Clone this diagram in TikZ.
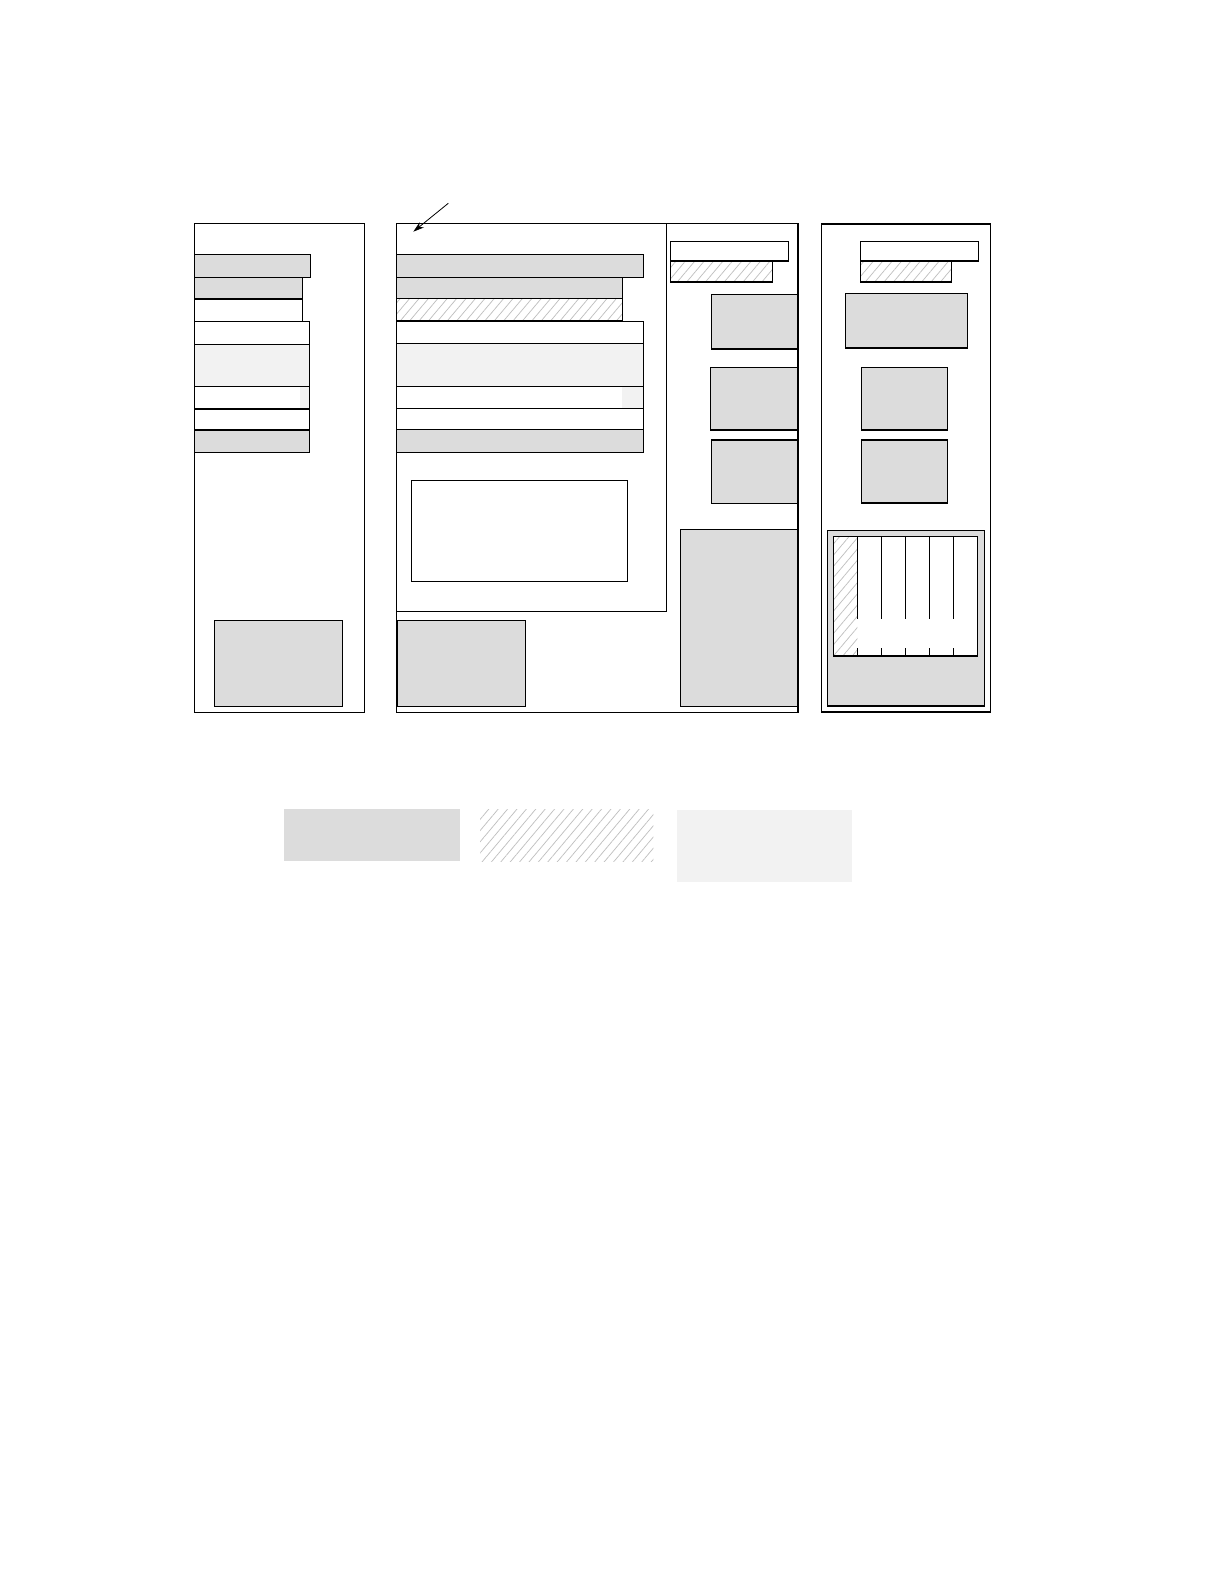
\documentclass[tikz,border=0pt]{standalone}
\usetikzlibrary{patterns.meta,arrows.meta}
\definecolor{boxgray}{RGB}{220,220,220}
\definecolor{dotgray}{RGB}{242,242,242}
\definecolor{hatchgray}{RGB}{190,190,190}
\tikzset{
  box/.style={draw=black,line width=0.6pt},
  grayfill/.style={fill=boxgray},
  dotfill/.style={fill=dotgray},
  hatchfill/.style={pattern={Lines[angle=50,distance=3.6pt,line width=0.35pt]},pattern color=hatchgray},
  thinline/.style={draw=black,line width=0.6pt},
  pointer/.style={draw=black,line width=0.4pt,-{Stealth[length=5.5pt,width=3.4pt]}}
}
\begin{document}
\begin{tikzpicture}[x=0.5pt,y=-0.5pt]
\useasboundingbox (0,0) rectangle (1222,1582);
\fill[white] (0,0) rectangle (1222,1582);

% ---------- left panel ----------
\draw[box] (194.3,223.3) rectangle (364.3,712.3);
\filldraw[box,grayfill] (194.3,254.3) rectangle (310.3,277.3);
\filldraw[box,grayfill] (194.3,277.3) rectangle (302.3,299.0);
\draw[box] (194.3,299.0) rectangle (302.3,321.3);
\draw[box] (194.3,321.3) rectangle (309.3,344.3);
\filldraw[box,dotfill] (194.3,344.3) rectangle (309.3,386.3);
\fill[dotfill] (300.0,386.3) rectangle (309.3,408.3);
\draw[box] (194.3,386.3) rectangle (309.3,409.0);
\draw[box] (194.3,409.0) rectangle (309.3,430.0);
\filldraw[box,grayfill] (194.3,430.0) rectangle (309.3,452.3);
\filldraw[box,grayfill] (214.3,620.3) rectangle (342.3,706.3);

% ---------- middle panel ----------
\draw[box] (396.3,223.3) rectangle (798.0,712.3);
\draw[box] (396.3,223.3) rectangle (666.5,611.3);
\filldraw[box,grayfill] (396.3,254.3) rectangle (643.3,277.3);
\filldraw[box,grayfill] (396.3,277.3) rectangle (622.3,298.3);
\fill[white] (396.3,298.3) rectangle (622.3,320.7);
\fill[hatchfill] (396.3,298.3) rectangle (622.3,320.7);
\draw[box] (396.3,298.3) rectangle (622.3,320.7);
\draw[box] (396.3,321.3) rectangle (643.3,343.3);
\filldraw[box,dotfill] (396.3,343.3) rectangle (643.3,386.3);
\fill[dotfill] (622.3,386.3) rectangle (643.3,408.3);
\draw[box] (396.3,386.3) rectangle (643.3,408.3);
\draw[box] (396.3,408.3) rectangle (643.3,429.3);
\filldraw[box,grayfill] (396.3,429.3) rectangle (643.3,452.3);
\draw[box] (411.3,480.7) rectangle (627.3,581.3);
\filldraw[box,grayfill] (397.0,620.3) rectangle (525.7,706.3);

% right column of middle panel
\draw[box] (670.7,241.7) rectangle (788.3,261.0);
\fill[hatchfill] (670.7,261.0) rectangle (772.3,282.0);
\draw[box] (670.7,261.0) rectangle (772.3,282.0);
\filldraw[box,grayfill] (711.3,294.3) rectangle (797.3,349.0);
\filldraw[box,grayfill] (710.3,367.3) rectangle (797.3,430.0);
\filldraw[box,grayfill] (711.3,440.0) rectangle (797.3,503.3);
\filldraw[box,grayfill] (680.3,529.3) rectangle (797.3,706.3);

% pointer
\coordinate (ptail) at (448.3,203.3);
\coordinate (phead) at (413.3,231.7);
\draw[pointer] (ptail) -- (phead);

% ---------- right panel ----------
\draw[box] (821.3,224.0) rectangle (990.3,712.0);
\draw[box] (860.3,241.7) rectangle (978.3,261.0);
\fill[hatchfill] (860.3,261.0) rectangle (951.3,282.0);
\draw[box] (860.3,261.0) rectangle (951.3,282.0);
\filldraw[box,grayfill] (845.3,293.3) rectangle (967.3,348.0);
\filldraw[box,grayfill] (861.3,367.3) rectangle (947.3,430.0);
\filldraw[box,grayfill] (861.3,440.0) rectangle (947.3,503.0);
\filldraw[box,grayfill] (827.3,530.3) rectangle (984.3,706.0);
\filldraw[box,fill=white] (833.3,536.3) rectangle (977.3,656.0);
\fill[hatchfill] (833.3,536.3) rectangle (857.3,656.0);
\draw[box] (833.3,536.3) rectangle (977.3,656.0);
\foreach \xx in {857.3,881.3,905.3,929.3,953.3}{
  \draw[thinline] (\xx,536.3) -- (\xx,619.0);
  \draw[thinline] (\xx,648.0) -- (\xx,656.0);
}

% ---------- legend ----------
\fill[grayfill] (284.0,809.0) rectangle (460.0,860.7);
\fill[hatchfill] (480.0,809.0) rectangle (653.3,861.7);
\fill[dotfill] (676.7,810.0) rectangle (852.0,881.7);
\end{tikzpicture}
\end{document}
